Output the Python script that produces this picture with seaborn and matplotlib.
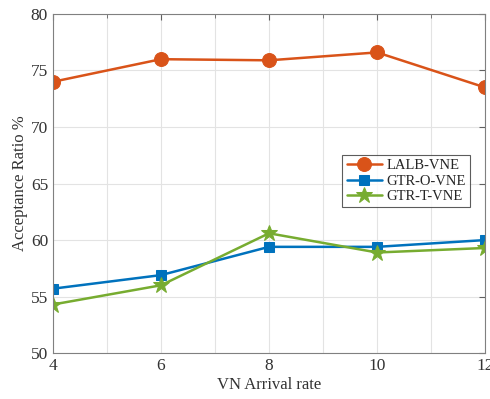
import matplotlib
matplotlib.use("Agg")
import matplotlib.pyplot as plt
import seaborn as sns
import pandas as pd
from matplotlib.ticker import MultipleLocator

x = [4, 6, 8, 10, 12]
lalb = [74.0, 76.0, 75.9, 76.6, 73.5]
gtr_o = [55.7, 56.9, 59.4, 59.4, 60.0]
gtr_t = [54.3, 56.0, 60.6, 58.9, 59.3]
names = ["LALB-VNE", "GTR-O-VNE", "GTR-T-VNE"]
colors = ["#D95319", "#0072BD", "#77AC30"]
markers = ["o", "s", "*"]
msizes = [10, 7, 12]

sns.set_style("white")
plt.rcParams["font.family"] = ["Liberation Serif", "DejaVu Serif"]

fig = plt.figure(figsize=(4.9, 3.99), dpi=100)
ax = fig.add_axes([0.108, 0.115, 0.882, 0.85])

for name, vals, c, m, ms in zip(names, [lalb, gtr_o, gtr_t], colors, markers, msizes):
    df = pd.DataFrame({"x": x, "y": vals})
    sns.lineplot(data=df, x="x", y="y", ax=ax, color=c, marker=m, markersize=ms,
                 markeredgecolor=c, linewidth=1.8, label=name)

ax.set_xlim(4, 12)
ax.set_ylim(50, 80)
ax.set_xticks([4, 6, 8, 10, 12])
ax.xaxis.set_minor_locator(MultipleLocator(1))
ax.set_yticks([50, 55, 60, 65, 70, 75, 80])
ax.grid(True, which="both", color="#e3e3e3", linewidth=0.8)
ax.set_axisbelow(True)
for s in ax.spines.values():
    s.set_color("#808080")
    s.set_linewidth(0.8)
ax.tick_params(which="both", direction="in", top=True, right=True, color="#606060",
               labelsize=12.5, labelcolor="#333333")
ax.tick_params(which="major", length=4)
ax.tick_params(which="minor", length=3)
ax.set_xlabel("VN Arrival rate", fontsize=12, color="#333333", labelpad=2)
ax.set_ylabel("Acceptance Ratio %", fontsize=12, color="#333333", labelpad=2)

leg = ax.legend(loc="upper right", bbox_to_anchor=(0.965, 0.585), fontsize=10.5,
                frameon=True, fancybox=False, borderpad=0.3, labelspacing=0.15,
                handlelength=2.4, handletextpad=0.3, borderaxespad=0)
leg.get_frame().set_edgecolor("#333333")
leg.get_frame().set_linewidth(0.8)

fig.savefig("out.png", dpi=100)
